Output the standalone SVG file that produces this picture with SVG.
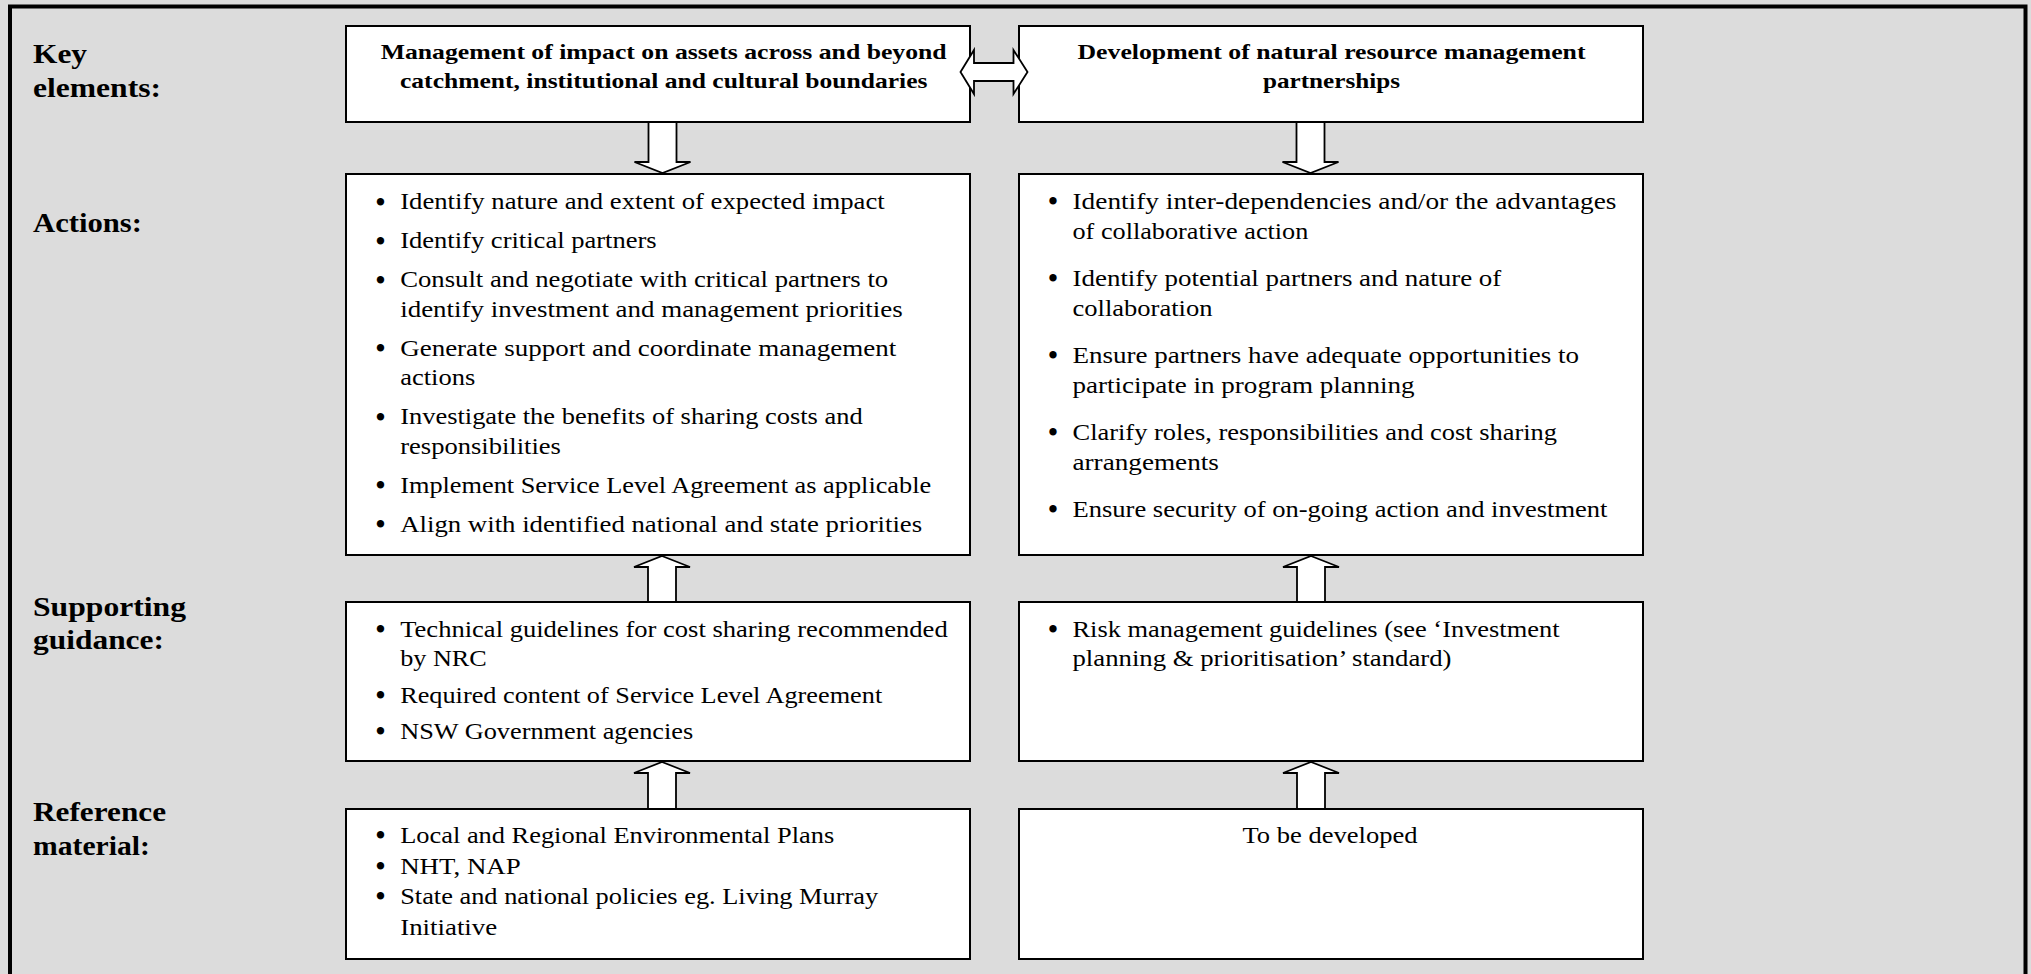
<svg xmlns="http://www.w3.org/2000/svg" width="2031" height="974" viewBox="0 0 2031 974">
<style>
.bg{fill:#DCDCDC}
.frame{fill:#DCDCDC;stroke:#000;stroke-width:4}
.box{fill:#fff;stroke:#000;stroke-width:2}
.arrow{fill:#fff;stroke:#000;stroke-width:1.8;stroke-linejoin:miter}
text{font-family:"Liberation Serif","Times New Roman",serif;fill:#000}
.t{font-size:24px}
.h{font-size:21px;font-weight:bold}
.l{font-size:27px;font-weight:bold}
.bu{font-size:27px;font-weight:bold;text-anchor:middle}
.c{font-size:24px;text-anchor:middle}
</style>
<rect class="bg" x="0" y="0" width="2031" height="974"/>
<rect class="frame" x="10" y="6.5" width="2015.5" height="1000"/>

<g id="labels">
<text class="l" x="33" y="63" textLength="54" lengthAdjust="spacingAndGlyphs">Key</text>
<text class="l" x="33" y="96.5" textLength="128" lengthAdjust="spacingAndGlyphs">elements:</text>
<text class="l" x="33" y="232" textLength="109" lengthAdjust="spacingAndGlyphs">Actions:</text>
<text class="l" x="33" y="615.5" textLength="153" lengthAdjust="spacingAndGlyphs">Supporting</text>
<text class="l" x="33" y="649" textLength="131" lengthAdjust="spacingAndGlyphs">guidance:</text>
<text class="l" x="33" y="821" textLength="133" lengthAdjust="spacingAndGlyphs">Reference</text>
<text class="l" x="33" y="854.5" textLength="117" lengthAdjust="spacingAndGlyphs">material:</text>
</g>

<g id="key-impact">
<rect class="box" x="346" y="26" width="624" height="96"/>
<text class="h" x="380.7" y="58.5" textLength="566" lengthAdjust="spacingAndGlyphs">Management of impact on assets across and beyond</text>
<text class="h" x="400" y="87.5" textLength="527.5" lengthAdjust="spacingAndGlyphs">catchment, institutional and cultural boundaries</text>
</g>

<g id="key-partnerships">
<rect class="box" x="1019" y="26" width="624" height="96"/>
<text class="h" x="1077.5" y="58.5" textLength="508" lengthAdjust="spacingAndGlyphs">Development of natural resource management</text>
<text class="h" x="1263" y="87.5" textLength="137" lengthAdjust="spacingAndGlyphs">partnerships</text>
</g>

<g id="actions-impact">
<rect class="box" x="346" y="174" width="624" height="381"/>
<text class="bu" x="380.5" y="210.5">•</text>
<text class="t" x="400.2" y="209.3" textLength="484.5" lengthAdjust="spacingAndGlyphs">Identify nature and extent of expected impact</text>
<text class="bu" x="380.5" y="249.5">•</text>
<text class="t" x="400.2" y="248.3" textLength="256.5" lengthAdjust="spacingAndGlyphs">Identify critical partners</text>
<text class="bu" x="380.5" y="288.5">•</text>
<text class="t" x="400.2" y="287.3" textLength="488" lengthAdjust="spacingAndGlyphs">Consult and negotiate with critical partners to</text>
<text class="t" x="400.2" y="316.8" textLength="502.6" lengthAdjust="spacingAndGlyphs">identify investment and management priorities</text>
<text class="bu" x="380.5" y="357">•</text>
<text class="t" x="400.2" y="355.8" textLength="496" lengthAdjust="spacingAndGlyphs">Generate support and coordinate management</text>
<text class="t" x="400.2" y="385.3" textLength="75" lengthAdjust="spacingAndGlyphs">actions</text>
<text class="bu" x="380.5" y="425.5">•</text>
<text class="t" x="400.2" y="424.3" textLength="462.5" lengthAdjust="spacingAndGlyphs">Investigate the benefits of sharing costs and</text>
<text class="t" x="400.2" y="453.8" textLength="160.7" lengthAdjust="spacingAndGlyphs">responsibilities</text>
<text class="bu" x="380.5" y="494">•</text>
<text class="t" x="400.2" y="492.8" textLength="531" lengthAdjust="spacingAndGlyphs">Implement Service Level Agreement as applicable</text>
<text class="bu" x="380.5" y="532.7">•</text>
<text class="t" x="400.2" y="531.5" textLength="522" lengthAdjust="spacingAndGlyphs">Align with identified national and state priorities</text>
</g>

<g id="actions-partnerships">
<rect class="box" x="1019" y="174" width="624" height="381"/>
<text class="bu" x="1053" y="210.2">•</text>
<text class="t" x="1072.5" y="209" textLength="544" lengthAdjust="spacingAndGlyphs">Identify inter-dependencies and/or the advantages</text>
<text class="t" x="1072.5" y="238.5" textLength="235.8" lengthAdjust="spacingAndGlyphs">of collaborative action</text>
<text class="bu" x="1053" y="287.2">•</text>
<text class="t" x="1072.5" y="286" textLength="428.8" lengthAdjust="spacingAndGlyphs">Identify potential partners and nature of</text>
<text class="t" x="1072.5" y="315.5" textLength="140" lengthAdjust="spacingAndGlyphs">collaboration</text>
<text class="bu" x="1053" y="364.2">•</text>
<text class="t" x="1072.5" y="363" textLength="506.5" lengthAdjust="spacingAndGlyphs">Ensure partners have adequate opportunities to</text>
<text class="t" x="1072.5" y="392.5" textLength="342" lengthAdjust="spacingAndGlyphs">participate in program planning</text>
<text class="bu" x="1053" y="441.2">•</text>
<text class="t" x="1072.5" y="440" textLength="484.5" lengthAdjust="spacingAndGlyphs">Clarify roles, responsibilities and cost sharing</text>
<text class="t" x="1072.5" y="469.5" textLength="146.4" lengthAdjust="spacingAndGlyphs">arrangements</text>
<text class="bu" x="1053" y="517.7">•</text>
<text class="t" x="1072.5" y="516.5" textLength="535" lengthAdjust="spacingAndGlyphs">Ensure security of on-going action and investment</text>
</g>

<g id="guidance-impact">
<rect class="box" x="346" y="602" width="624" height="159"/>
<text class="bu" x="380.5" y="637.8">•</text>
<text class="t" x="400.2" y="636.6" textLength="547.5" lengthAdjust="spacingAndGlyphs">Technical guidelines for cost sharing recommended</text>
<text class="t" x="400.2" y="666.2" textLength="86.6" lengthAdjust="spacingAndGlyphs">by NRC</text>
<text class="bu" x="380.5" y="703.8">•</text>
<text class="t" x="400.2" y="702.6" textLength="482" lengthAdjust="spacingAndGlyphs">Required content of Service Level Agreement</text>
<text class="bu" x="380.5" y="740.2">•</text>
<text class="t" x="400.2" y="739" textLength="293" lengthAdjust="spacingAndGlyphs">NSW Government agencies</text>
</g>

<g id="guidance-partnerships">
<rect class="box" x="1019" y="602" width="624" height="159"/>
<text class="bu" x="1053" y="637.8">•</text>
<text class="t" x="1072.5" y="636.6" textLength="487" lengthAdjust="spacingAndGlyphs">Risk management guidelines (see ‘Investment</text>
<text class="t" x="1072.5" y="666.2" textLength="379" lengthAdjust="spacingAndGlyphs">planning &amp; prioritisation’ standard)</text>
</g>

<g id="reference-impact">
<rect class="box" x="346" y="809" width="624" height="150"/>
<text class="bu" x="380.5" y="844.2">•</text>
<text class="t" x="400.2" y="843" textLength="434" lengthAdjust="spacingAndGlyphs">Local and Regional Environmental Plans</text>
<text class="bu" x="380.5" y="874.7">•</text>
<text class="t" x="400.2" y="873.5" textLength="120.5" lengthAdjust="spacingAndGlyphs">NHT, NAP</text>
<text class="bu" x="380.5" y="905.2">•</text>
<text class="t" x="400.2" y="904" textLength="478" lengthAdjust="spacingAndGlyphs">State and national policies eg. Living Murray</text>
<text class="t" x="400.2" y="934.5" textLength="97" lengthAdjust="spacingAndGlyphs">Initiative</text>
</g>

<g id="reference-partnerships">
<rect class="box" x="1019" y="809" width="624" height="150"/>
<text class="c" x="1330" y="843.3" textLength="175" lengthAdjust="spacingAndGlyphs">To be developed</text>
</g>

<g id="connectors">
<path class="arrow" d="M960.5,72 L974,50 L974,63 L1013.5,63 L1013.5,50 L1027.5,72 L1013.5,94 L1013.5,81 L974,81 L974,94 Z"/>
<path class="arrow" d="M648.5,122 L676.5,122 L676.5,162 L690.5,162 L662.5,173 L634.5,162 L648.5,162 Z"/>
<path class="arrow" d="M1296.5,122 L1324.5,122 L1324.5,162 L1338.5,162 L1310.5,173 L1282.5,162 L1296.5,162 Z"/>
<path class="arrow" d="M662,556 L690,567 L676,567 L676,602 L648,602 L648,567 L634,567 Z"/>
<path class="arrow" d="M1311,556 L1339,567 L1325,567 L1325,602 L1297,602 L1297,567 L1283,567 Z"/>
<path class="arrow" d="M662,762 L690,773 L676,773 L676,809 L648,809 L648,773 L634,773 Z"/>
<path class="arrow" d="M1311,762 L1339,773 L1325,773 L1325,809 L1297,809 L1297,773 L1283,773 Z"/>
</g>
</svg>
